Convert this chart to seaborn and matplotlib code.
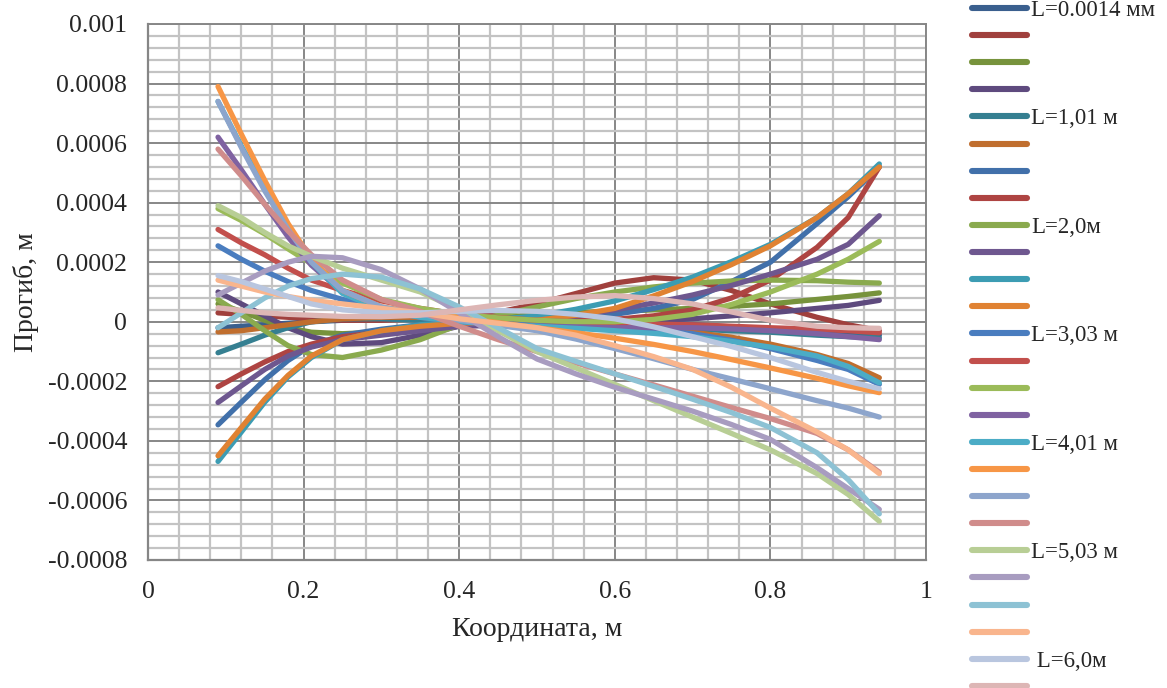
import numpy as np
import pandas as pd
import matplotlib
matplotlib.use("Agg")
import matplotlib.pyplot as plt
from matplotlib.ticker import MultipleLocator, FuncFormatter
from matplotlib.lines import Line2D
import seaborn as sns

# ---------------- data (deflection values in units of 1e-4 m) ----------------
SCALE = 1e-4
x_coord = [0.09, 0.12, 0.15, 0.18, 0.21, 0.25, 0.30, 0.35, 0.40, 0.45, 0.50,
           0.55, 0.60, 0.65, 0.70, 0.75, 0.80, 0.86, 0.90, 0.94]

s01 = [-0.20, -0.15, -0.10, -0.05, 0.00, 0.05, 0.10, 0.12, 0.15, 0.16, 0.15, 0.11, 0.05, -0.02, -0.10, -0.17, -0.25, -0.35, -0.40, -0.45]
s02 = [0.30, 0.25, 0.20, 0.15, 0.10, 0.05, 0.05, 0.10, 0.20, 0.32, 0.60, 0.95, 1.30, 1.48, 1.40, 1.05, 0.60, 0.15, -0.10, -0.30]
s03 = [0.60, 0.35, 0.05, -0.20, -0.35, -0.40, -0.35, -0.20, 0.00, 0.13, 0.25, 0.31, 0.35, 0.40, 0.45, 0.52, 0.60, 0.75, 0.85, 0.97]
s04 = [1.00, 0.60, 0.20, -0.20, -0.50, -0.75, -0.70, -0.45, -0.15, -0.12, -0.10, -0.05, 0.00, 0.05, 0.10, 0.20, 0.30, 0.45, 0.55, 0.72]
s05 = [-1.04, -0.75, -0.45, -0.20, 0.00, 0.10, 0.10, 0.05, 0.00, -0.05, -0.10, -0.15, -0.20, -0.22, -0.25, -0.30, -0.35, -0.45, -0.50, -0.54]
s06 = [-0.34, -0.30, -0.20, -0.10, 0.00, 0.10, 0.15, 0.15, 0.10, 0.05, 0.00, -0.07, -0.15, -0.24, -0.35, -0.52, -0.75, -1.10, -1.40, -1.88]
s07 = [-3.46, -2.70, -1.95, -1.30, -0.80, -0.45, -0.25, -0.10, 0.00, 0.05, 0.10, 0.15, 0.25, 0.45, 0.75, 1.35, 2.00, 3.30, 4.20, 5.20]
s08 = [-2.18, -1.75, -1.35, -1.00, -0.75, -0.50, -0.35, -0.20, -0.10, -0.05, 0.00, 0.03, 0.08, 0.20, 0.40, 0.80, 1.40, 2.50, 3.50, 5.20]
s09 = [0.74, 0.25, -0.30, -0.80, -1.10, -1.20, -0.95, -0.60, -0.10, 0.22, 0.50, 0.78, 1.00, 1.17, 1.30, 1.37, 1.40, 1.38, 1.33, 1.30]
s10 = [-2.71, -2.15, -1.60, -1.15, -0.85, -0.60, -0.45, -0.30, -0.15, -0.06, 0.05, 0.20, 0.40, 0.63, 0.90, 1.22, 1.60, 2.10, 2.60, 3.56]
s11 = [-4.69, -3.70, -2.70, -1.85, -1.20, -0.60, -0.30, -0.10, 0.00, 0.08, 0.20, 0.42, 0.70, 1.08, 1.50, 2.02, 2.60, 3.50, 4.30, 5.30]
s12 = [-4.50, -3.55, -2.60, -1.80, -1.15, -0.60, -0.30, -0.15, -0.05, 0.00, 0.05, 0.22, 0.45, 0.87, 1.35, 1.92, 2.55, 3.50, 4.30, 5.20]
s13 = [2.55, 2.10, 1.70, 1.35, 1.05, 0.75, 0.45, 0.30, 0.20, 0.10, 0.00, -0.07, -0.15, -0.26, -0.40, -0.62, -0.90, -1.30, -1.60, -2.10]
s14 = [3.10, 2.65, 2.25, 1.80, 1.40, 1.05, 0.70, 0.45, 0.25, 0.14, 0.05, 0.00, -0.05, -0.08, -0.10, -0.15, -0.20, -0.25, -0.30, -0.37]
s15 = [3.80, 3.40, 2.95, 2.45, 1.95, 1.30, 0.75, 0.45, 0.25, 0.13, 0.05, 0.00, 0.00, 0.08, 0.25, 0.58, 1.00, 1.60, 2.10, 2.70]
s16 = [6.20, 5.10, 3.95, 2.85, 1.90, 1.00, 0.40, 0.15, 0.00, -0.08, -0.15, -0.18, -0.20, -0.20, -0.20, -0.24, -0.30, -0.40, -0.50, -0.60]
s17 = [7.40, 5.90, 4.50, 3.15, 2.00, 0.95, 0.40, 0.15, 0.00, -0.08, -0.15, -0.22, -0.30, -0.39, -0.50, -0.66, -0.85, -1.15, -1.50, -2.05]
s18 = [7.90, 6.30, 4.75, 3.30, 2.10, 1.05, 0.50, 0.30, 0.15, -0.03, -0.20, -0.37, -0.55, -0.76, -1.00, -1.27, -1.55, -1.90, -2.15, -2.38]
s19 = [7.40, 5.85, 4.40, 3.10, 2.00, 1.05, 0.50, 0.25, 0.05, -0.12, -0.30, -0.58, -0.90, -1.24, -1.60, -1.92, -2.25, -2.65, -2.90, -3.20]
s20 = [5.80, 4.90, 3.95, 3.05, 2.25, 1.40, 0.75, 0.35, -0.15, -0.60, -1.00, -1.38, -1.75, -2.12, -2.50, -2.88, -3.25, -3.75, -4.30, -5.05]
s21 = [3.90, 3.50, 3.00, 2.55, 2.20, 1.80, 1.40, 1.00, 0.40, -0.30, -1.00, -1.55, -2.10, -2.65, -3.20, -3.75, -4.30, -5.10, -5.80, -6.70]
s22 = [0.90, 1.30, 1.70, 2.00, 2.20, 2.15, 1.75, 1.10, 0.30, -0.50, -1.25, -1.75, -2.20, -2.60, -3.00, -3.45, -3.95, -4.90, -5.60, -6.30]
s23 = [-0.20, 0.30, 0.80, 1.20, 1.45, 1.60, 1.50, 1.10, 0.50, -0.20, -0.90, -1.33, -1.75, -2.17, -2.60, -3.05, -3.55, -4.40, -5.30, -6.45]
s24 = [1.40, 1.20, 1.00, 0.85, 0.72, 0.60, 0.45, 0.30, 0.10, -0.05, -0.20, -0.45, -0.80, -1.17, -1.60, -2.20, -2.90, -3.70, -4.30, -5.10]
s25 = [1.55, 1.35, 1.10, 0.85, 0.60, 0.40, 0.30, 0.30, 0.35, 0.38, 0.35, 0.25, 0.10, -0.17, -0.50, -0.83, -1.20, -1.70, -2.00, -2.25]
s26 = [0.47, 0.38, 0.30, 0.25, 0.22, 0.18, 0.17, 0.22, 0.40, 0.57, 0.72, 0.83, 0.88, 0.78, 0.60, 0.33, 0.05, -0.15, -0.20, -0.22]

series_colors = ['#3A5F8E', '#A0403D', '#77933C', '#5E4A7E', '#357F91', '#C06E2E',
                 '#4170AA', '#AE4442', '#8AAA4E', '#6E578F', '#3C9CB3', '#E08232',
                 '#4A7DBF', '#C24F4C', '#9BBB59', '#7F62A1', '#4BACC6', '#F79646',
                 '#8DA5CC', '#D08C8B', '#B8CE95', '#A89CC0', '#8DC2D4', '#F9B58D',
                 '#B9C6DF', '#DDB6B5']

legend_labels = ['L=0.0014 мм', '', '', '', 'L=1,01 м', '', '', '', 'L=2,0м', '', '', '',
                 'L=3,03 м', '', '', '', 'L=4,01 м', '', '', '', 'L=5,03 м', '', '', '',
                 ' L=6,0м', '']

x_ticks = [0, 0.2, 0.4, 0.6, 0.8, 1.0]
y_ticks = [-0.0008, -0.0006, -0.0004, -0.0002, 0, 0.0002, 0.0004, 0.0006, 0.0008, 0.001]

all_series = [s01, s02, s03, s04, s05, s06, s07, s08, s09, s10, s11, s12, s13,
              s14, s15, s16, s17, s18, s19, s20, s21, s22, s23, s24, s25, s26]

# ---------------- long-format frame ----------------
rows = []
for i, vals in enumerate(all_series):
    for xv, yv in zip(x_coord, vals):
        rows.append({"series": f"s{i+1:02d}", "x": xv, "y": yv * SCALE})
df = pd.DataFrame(rows)
series_names = [f"s{i+1:02d}" for i in range(len(all_series))]
palette = dict(zip(series_names, series_colors))

# ---------------- style ----------------
sns.set_style("white")
plt.rcParams['font.family'] = ['Liberation Serif', 'DejaVu Serif']

fig = plt.figure(figsize=(11.67, 6.88), dpi=100)
ax = fig.add_axes([148/1167, 1 - 560/688, (926-148)/1167, (560-24)/688])

sns.lineplot(data=df, x="x", y="y", hue="series", hue_order=series_names,
             palette=palette, linewidth=3.8, legend=False, sort=False,
             estimator=None, ax=ax)
for ln in ax.get_lines():
    ln.set_solid_capstyle('round')
    ln.set_solid_joinstyle('round')

ax.set_xlim(0, 1)
ax.set_ylim(-0.0008, 0.001)
ax.xaxis.set_minor_locator(MultipleLocator(0.04))
ax.yaxis.set_minor_locator(MultipleLocator(0.00004))
ax.set_xticks(x_ticks)
ax.set_yticks(y_ticks)


def fmt(v, pos):
    v = round(v, 7)
    if v == 0:
        return "0"
    return f"{v:g}"


ax.xaxis.set_major_formatter(FuncFormatter(fmt))
ax.yaxis.set_major_formatter(FuncFormatter(fmt))

ax.set_axisbelow(True)
ax.grid(which='minor', color='#c3c3c3', linewidth=1.6)
ax.grid(which='major', color='#878787', linewidth=1.4)

for side in ['top', 'right']:
    ax.spines[side].set_color('#878787')
    ax.spines[side].set_linewidth(1.4)
for side in ['left', 'bottom']:
    ax.spines[side].set_color('#868686')
    ax.spines[side].set_linewidth(1.6)

ax.tick_params(axis='y', which='major', length=6, width=1.4, color='#868686',
               direction='out', pad=9, labelsize=18.5)
ax.tick_params(axis='x', which='major', length=6, width=1.4, color='#868686',
               direction='out', pad=9, labelsize=18.5)
ax.tick_params(which='minor', length=0)

ax.set_xlabel("Координата, м", fontsize=20, labelpad=10)
ax.set_ylabel("Прогиб, м", fontsize=20, labelpad=6)

handles = [Line2D([], [], color=c, linewidth=4.4, solid_capstyle='round')
           for c in series_colors]
fig.legend(handles, legend_labels, loc='upper left',
           bbox_to_anchor=(972/1167, 1 - 0/688), frameon=False,
           fontsize=16.5, handlelength=2.4, handletextpad=0.18,
           labelspacing=0.265, borderaxespad=0.0, borderpad=0.0)

fig.savefig("out.png", dpi=100)
